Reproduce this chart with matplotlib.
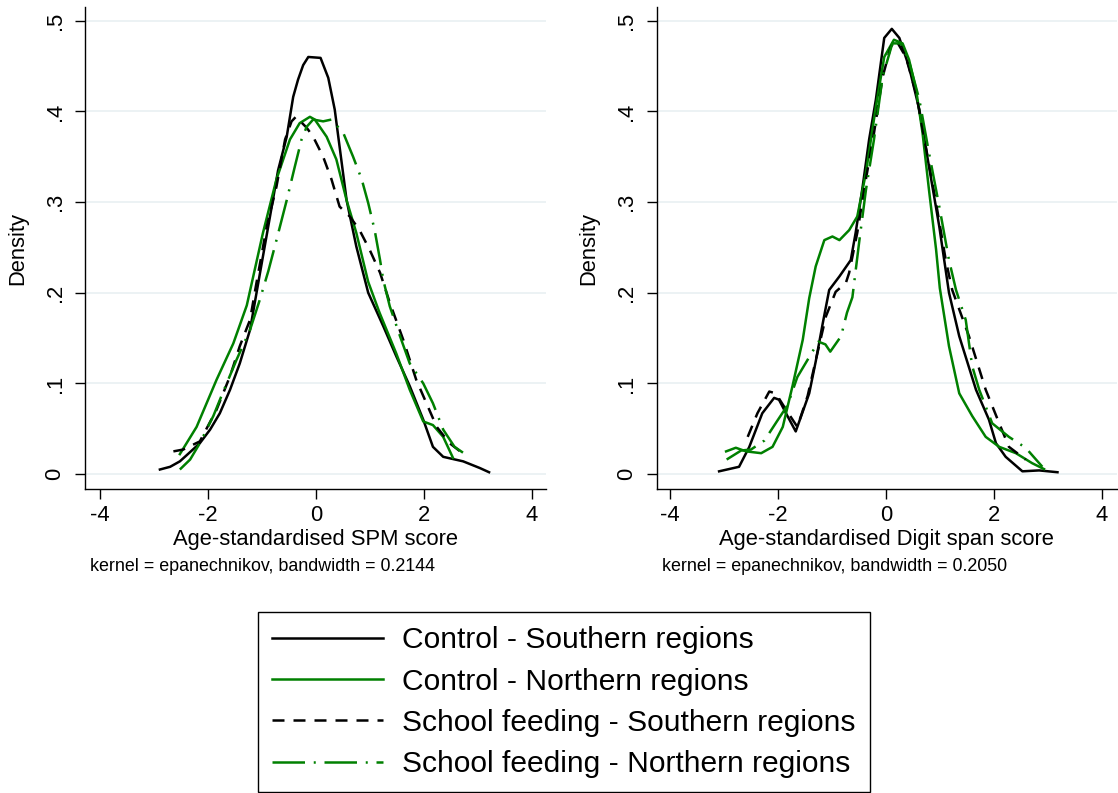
import matplotlib
matplotlib.use('Agg')
import matplotlib.pyplot as plt

plt.rcParams['font.family'] = ['Liberation Sans', 'DejaVu Sans']

# legend labels, in drawing order
labels = ['Control - Southern regions', 'Control - Northern regions',
          'School feeding - Southern regions', 'School feeding - Northern regions']

# ---- panel 1: SPM score ----
spm_cs_x = [-2.89, -2.70, -2.52, -2.39, -2.15, -1.96, -1.78, -1.59, -1.41, -1.22, -1.04, -0.85,
            -0.70, -0.54, -0.42, -0.33, -0.235, -0.14, 0.087, 0.23, 0.35, 0.44, 0.57, 0.75,
            0.97, 1.25, 1.49, 1.74, 1.99, 2.17, 2.36, 2.73, 3.04, 3.21]
spm_cs_y = [0.005, 0.008, 0.014, 0.021, 0.034, 0.049, 0.067, 0.093, 0.122, 0.159, 0.220, 0.284,
            0.335, 0.372, 0.416, 0.435, 0.451, 0.460, 0.459, 0.437, 0.402, 0.361, 0.302, 0.251,
            0.200, 0.163, 0.130, 0.097, 0.060, 0.030, 0.019, 0.014, 0.0066, 0.002]

spm_cn_x = [-2.52, -2.21, -1.84, -1.53, -1.28, -0.98, -0.73, -0.48, -0.30, -0.11, -0.02, 0.20,
            0.38, 0.57, 0.75, 0.97, 1.18, 1.49, 1.74, 1.99, 2.17, 2.36, 2.54]
spm_cn_y = [0.022, 0.052, 0.104, 0.144, 0.186, 0.266, 0.325, 0.369, 0.387, 0.394, 0.391, 0.372,
            0.347, 0.302, 0.266, 0.212, 0.178, 0.133, 0.093, 0.058, 0.054, 0.041, 0.018]

spm_ss_x = [-2.64, -2.46, -2.15, -1.84, -1.59, -1.41, -1.22, -1.10, -0.91, -0.73, -0.57, -0.45,
            -0.37, -0.17, -0.05, 0.135, 0.29, 0.44, 0.63, 0.81, 1.00, 1.19, 1.37, 1.62, 1.86,
            2.05, 2.24, 2.48, 2.76]
spm_ss_y = [0.025, 0.027, 0.036, 0.071, 0.108, 0.141, 0.170, 0.211, 0.273, 0.317, 0.369, 0.389,
            0.394, 0.382, 0.372, 0.350, 0.325, 0.295, 0.284, 0.269, 0.247, 0.222, 0.189, 0.148,
            0.104, 0.078, 0.052, 0.034, 0.021]

spm_sn_x = [-2.52, -2.33, -2.15, -1.90, -1.75, -1.47, -1.22, -1.04, -0.88, -0.73, -0.54, -0.39,
            -0.265, -0.17, -0.05, 0.135, 0.29, 0.51, 0.69, 0.85, 0.97, 1.09, 1.19, 1.25, 1.37,
            1.56, 1.74, 1.99, 2.17, 2.36, 2.57, 2.79]
spm_sn_y = [0.005, 0.016, 0.034, 0.064, 0.086, 0.126, 0.159, 0.192, 0.224, 0.258, 0.302, 0.339,
            0.369, 0.383, 0.391, 0.389, 0.391, 0.376, 0.350, 0.325, 0.299, 0.269, 0.236, 0.214,
            0.185, 0.152, 0.122, 0.100, 0.078, 0.049, 0.030, 0.021]

# ---- panel 2: Digit span score ----
ds_cs_x = [-3.09, -2.72, -2.53, -2.29, -2.07, -1.98, -1.85, -1.67, -1.42, -1.30, -1.17, -1.05,
           -0.86, -0.65, -0.56, -0.43, -0.31, -0.185, -0.03, 0.11, 0.25, 0.43, 0.62, 0.80, 0.99,
           1.17, 1.36, 1.67, 1.91, 2.04, 2.22, 2.53, 2.84, 3.18]
ds_cs_y = [0.003, 0.008, 0.030, 0.067, 0.084, 0.082, 0.067, 0.047, 0.089, 0.124, 0.166, 0.203,
           0.218, 0.236, 0.266, 0.317, 0.369, 0.413, 0.481, 0.491, 0.481, 0.449, 0.402, 0.339,
           0.273, 0.200, 0.152, 0.093, 0.060, 0.034, 0.019, 0.003, 0.004, 0.002]

ds_cn_x = [-2.96, -2.78, -2.59, -2.31, -2.10, -1.91, -1.73, -1.54, -1.42, -1.30, -1.14, -0.99,
           -0.86, -0.68, -0.53, -0.37, -0.185, -0.03, 0.15, 0.31, 0.43, 0.56, 0.68, 0.80, 0.93,
           1.00, 1.17, 1.36, 1.60, 1.85, 2.10, 2.41, 2.71, 2.93]
ds_cn_y = [0.025, 0.029, 0.025, 0.023, 0.030, 0.052, 0.097, 0.148, 0.194, 0.229, 0.258, 0.262,
           0.258, 0.269, 0.284, 0.332, 0.405, 0.460, 0.479, 0.475, 0.457, 0.424, 0.376, 0.313,
           0.248, 0.205, 0.141, 0.089, 0.064, 0.041, 0.030, 0.023, 0.012, 0.0055]

ds_ss_x = [-2.56, -2.38, -2.16, -2.04, -1.85, -1.64, -1.45, -1.27, -1.11, -0.93, -0.74, -0.68,
           -0.53, -0.37, -0.22, -0.06, 0.09, 0.185, 0.37, 0.56, 0.74, 0.93, 1.11, 1.23, 1.54,
           1.85, 2.10, 2.28, 2.59]
ds_ss_y = [0.041, 0.067, 0.091, 0.089, 0.071, 0.052, 0.086, 0.133, 0.174, 0.201, 0.211, 0.222,
           0.266, 0.325, 0.376, 0.438, 0.471, 0.479, 0.460, 0.420, 0.361, 0.299, 0.236, 0.203,
           0.152, 0.093, 0.056, 0.030, 0.016]

ds_sn_x = [-2.95, -2.68, -2.50, -2.25, -2.02, -1.82, -1.64, -1.45, -1.25, -1.12, -1.03, -0.83,
           -0.72, -0.62, -0.49, -0.37, -0.22, -0.06, 0.12, 0.28, 0.43, 0.62, 0.80, 0.99, 1.17,
           1.30, 1.48, 1.60, 1.73, 1.97, 2.28, 2.59, 2.90]
ds_sn_y = [0.016, 0.026, 0.027, 0.037, 0.058, 0.076, 0.107, 0.126, 0.146, 0.143, 0.135, 0.152,
           0.178, 0.195, 0.258, 0.313, 0.369, 0.438, 0.475, 0.475, 0.455, 0.413, 0.354, 0.295,
           0.236, 0.203, 0.170, 0.119, 0.093, 0.056, 0.041, 0.029, 0.008]

x_ticks = [-4, -2, 0, 2, 4]
y_ticks = [0, 0.1, 0.2, 0.3, 0.4, 0.5]
y_ticklabels = ['0', '.1', '.2', '.3', '.4', '.5']

GREEN = '#008000'
LW = 1.8
styles = [dict(color='black', ls='-'),
          dict(color=GREEN, ls='-'),
          dict(color='black', ls=(0, (4.8, 3.6))),
          dict(color=GREEN, ls=(0, (13, 3.5, 0.8, 3.5)))]


def draw_panel(ax, curves, xlabel, note, xlim):
    lines = []
    for (xs, ys), st in zip(curves, styles):
        ln, = ax.plot(xs, ys, lw=LW, solid_joinstyle='round', **st)
        lines.append(ln)
    ax.set_xlim(*xlim)
    ax.set_ylim(-0.0165, 0.5151)
    ax.set_xticks(x_ticks)
    ax.set_xticklabels([str(t) for t in x_ticks])
    ax.set_yticks(y_ticks)
    ax.set_yticklabels(y_ticklabels, rotation=90, va='center')
    ax.yaxis.grid(True, color='#eaf1f3', lw=1.3)
    ax.set_axisbelow(True)
    for s in ['top', 'right']:
        ax.spines[s].set_visible(False)
    for s in ['left', 'bottom']:
        ax.spines[s].set_linewidth(1.0)
    ax.tick_params(direction='out', length=7, width=1.0, labelsize=15.8)
    ax.tick_params(axis='x', pad=4.2)
    ax.tick_params(axis='y', pad=7)
    ax.set_xlabel(xlabel, fontsize=15.8)
    ax.xaxis.set_label_coords(0.5, -0.082)
    ax.set_ylabel('Density', fontsize=15.8)
    ax.yaxis.set_label_coords(-0.124, 0.5)
    ax.text(0.011, -0.161, note, transform=ax.transAxes, fontsize=12.9,
            ha='left', va='center')
    return lines


fig = plt.figure(figsize=(11.18, 7.93), dpi=100)
ax1 = fig.add_axes([0.07603, 0.38335, 0.41234, 0.6078])
ax2 = fig.add_axes([0.58739, 0.38335, 0.41172, 0.6078])

handles = draw_panel(ax1,
                     [(spm_cs_x, spm_cs_y), (spm_cn_x, spm_cn_y),
                      (spm_ss_x, spm_ss_y), (spm_sn_x, spm_sn_y)],
                     'Age-standardised SPM score',
                     'kernel = epanechnikov, bandwidth = 0.2144',
                     (-4.278, 4.265))
draw_panel(ax2,
           [(ds_cs_x, ds_cs_y), (ds_cn_x, ds_cn_y),
            (ds_ss_x, ds_ss_y), (ds_sn_x, ds_sn_y)],
           'Age-standardised Digit span score',
           'kernel = epanechnikov, bandwidth = 0.2050',
           (-4.246, 4.283))

leg = fig.legend(handles, labels, loc='upper left',
                 bbox_to_anchor=(258 / 1118, 1 - 612 / 793), borderaxespad=0,
                 fontsize=21.6, handlelength=3.7, handletextpad=0.62,
                 labelspacing=0.44, borderpad=0.48, frameon=True, fancybox=False,
                 edgecolor='black', framealpha=1)
leg.get_frame().set_linewidth(1.0)

fig.savefig('out.png', dpi=100)
plt.close('all')
